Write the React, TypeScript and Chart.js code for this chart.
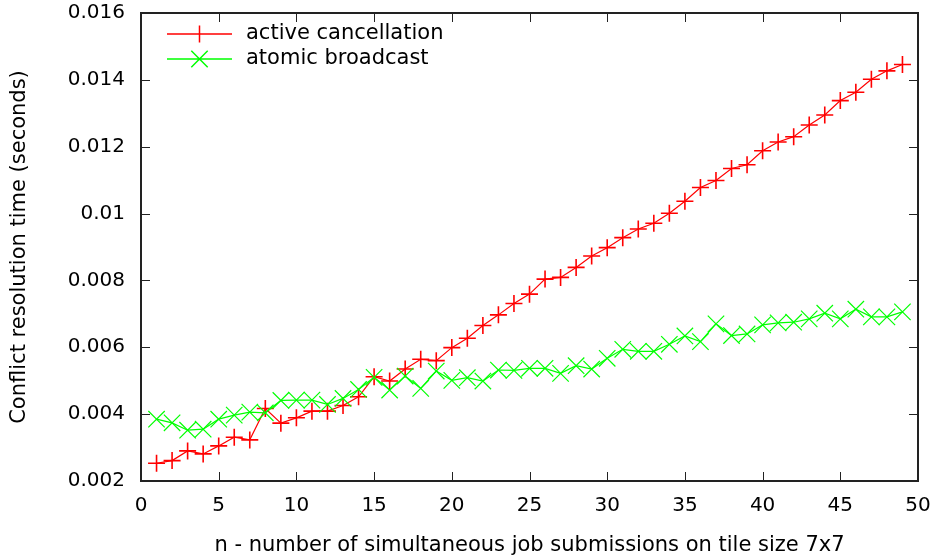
import React, { useEffect, useRef } from 'react';
import { Chart, registerables } from 'chart.js';

Chart.register(...registerables);

// n = number of simultaneous job submissions
const nValues = [
  1, 2, 3, 4, 5, 6, 7, 8, 9, 10, 11, 12, 13, 14, 15, 16, 17, 18, 19, 20, 21, 22, 23, 24, 25,
  26, 27, 28, 29, 30, 31, 32, 33, 34, 35, 36, 37, 38, 39, 40, 41, 42, 43, 44, 45, 46, 47, 48, 49,
];

// conflict resolution time in seconds
const activeCancellation = [
  0.00253, 0.00261, 0.0029, 0.00281, 0.00305, 0.00331, 0.00323, 0.00417, 0.00373, 0.00389,
  0.00409, 0.00409, 0.00426, 0.00452, 0.00512, 0.00499, 0.00535, 0.00564, 0.0056, 0.00599,
  0.00627, 0.00665, 0.00697, 0.00731, 0.00759, 0.00804, 0.00809, 0.00839, 0.00873, 0.00898,
  0.00928, 0.00954, 0.00971, 0.01001, 0.01037, 0.01078, 0.01099, 0.01135, 0.01146, 0.01188,
  0.01214, 0.0123, 0.01265, 0.01295, 0.01338, 0.01363, 0.01402, 0.01427, 0.01446,
];

const atomicBroadcast = [
  0.00385, 0.00374, 0.00352, 0.00355, 0.00385, 0.00397, 0.00406, 0.00404, 0.00441, 0.00442,
  0.00442, 0.00429, 0.00447, 0.00474, 0.0051, 0.00472, 0.00514, 0.00477, 0.00529, 0.00501,
  0.00509, 0.00499, 0.00532, 0.00531, 0.00537, 0.00537, 0.00522, 0.00545, 0.00535, 0.00567,
  0.00594, 0.00588, 0.00588, 0.00609, 0.00634, 0.00617, 0.0067, 0.00635, 0.0064, 0.00667,
  0.00673, 0.00675, 0.00685, 0.00702, 0.00685, 0.00714, 0.00691, 0.00691, 0.00706,
];

const xTickValues = [0, 5, 10, 15, 20, 25, 30, 35, 40, 45, 50];
const yTickValues = [0.002, 0.004, 0.006, 0.008, 0.01, 0.012, 0.014, 0.016];
const yTickLabels = ['0.002', '0.004', '0.006', '0.008', '0.01', '0.012', '0.014', '0.016'];

const seriesNames = ['active cancellation', 'atomic broadcast'];
const seriesColors = ['#ff0000', '#00ff00'];

const FONT = 'DejaVu Sans';

// Inward tick marks on all four sides, the border box and the key
const framePlugin = {
  id: 'gnuplotFrame',
  afterDatasetsDraw(chart: any) {
    const { ctx, chartArea } = chart;
    const { left, top, right, bottom } = chartArea;
    const xs = chart.scales.x;
    const ys = chart.scales.y;
    const tickLen = 9;
    ctx.save();

    ctx.strokeStyle = '#222';
    ctx.lineWidth = 1;
    ctx.beginPath();
    xs.ticks.forEach((t: any) => {
      if (t.value <= xs.min || t.value >= xs.max) return;
      const px = Math.round(xs.getPixelForValue(t.value)) + 0.5;
      ctx.moveTo(px, bottom);
      ctx.lineTo(px, bottom - tickLen);
      ctx.moveTo(px, top);
      ctx.lineTo(px, top + tickLen);
    });
    ys.ticks.forEach((t: any) => {
      if (t.value <= ys.min + 1e-9 || t.value >= ys.max - 1e-9) return;
      const py = Math.round(ys.getPixelForValue(t.value)) + 0.5;
      ctx.moveTo(left, py);
      ctx.lineTo(left + tickLen, py);
      ctx.moveTo(right, py);
      ctx.lineTo(right - tickLen, py);
    });
    ctx.stroke();

    ctx.lineWidth = 2;
    ctx.strokeStyle = '#222';
    ctx.strokeRect(left, top, right - left, bottom - top);

    // key
    const keyX0 = left + 26;
    const keyX1 = left + 91;
    const keyMid = (keyX0 + keyX1) / 2;
    const textX = left + 105;
    seriesNames.forEach((name, i) => {
      const ky = top + 21 + i * 25;
      ctx.strokeStyle = seriesColors[i];
      ctx.lineWidth = 1.5;
      ctx.beginPath();
      ctx.moveTo(keyX0, ky);
      ctx.lineTo(keyX1, ky);
      if (i === 0) {
        ctx.moveTo(keyMid - 8.5, ky);
        ctx.lineTo(keyMid + 8.5, ky);
        ctx.moveTo(keyMid, ky - 8.5);
        ctx.lineTo(keyMid, ky + 8.5);
      } else {
        const d = 8.2;
        ctx.moveTo(keyMid - d, ky - d);
        ctx.lineTo(keyMid + d, ky + d);
        ctx.moveTo(keyMid + d, ky - d);
        ctx.lineTo(keyMid - d, ky + d);
      }
      ctx.stroke();
      ctx.fillStyle = '#000';
      ctx.font = `21px "${FONT}"`;
      ctx.textAlign = 'left';
      ctx.textBaseline = 'middle';
      ctx.fillText(name, textX, ky);
    });

    ctx.restore();
  },
};

export default function App() {
  const canvasRef = useRef<HTMLCanvasElement | null>(null);

  useEffect(() => {
    if (!canvasRef.current) return;
    const chart = new Chart(canvasRef.current, {
      type: 'line',
      data: {
        datasets: [
          {
            label: seriesNames[0],
            data: nValues.map((n, i) => ({ x: n, y: activeCancellation[i] })),
            borderColor: seriesColors[0],
            backgroundColor: seriesColors[0],
            borderWidth: 1.2,
            pointStyle: 'cross',
            pointRadius: 8.5,
            pointBorderWidth: 1.6,
            pointBorderColor: seriesColors[0],
            tension: 0,
            fill: false,
            order: 1,
          },
          {
            label: seriesNames[1],
            data: nValues.map((n, i) => ({ x: n, y: atomicBroadcast[i] })),
            borderColor: seriesColors[1],
            backgroundColor: seriesColors[1],
            borderWidth: 1.2,
            pointStyle: 'crossRot',
            pointRadius: 11.6,
            pointBorderWidth: 1.2,
            pointBorderColor: seriesColors[1],
            tension: 0,
            fill: false,
            order: 0,
          },
        ],
      },
      options: {
        animation: false,
        responsive: false,
        maintainAspectRatio: false,
        events: [],
        layout: { padding: { top: 13, right: 22, left: 0, bottom: 0 } },
        plugins: {
          legend: { display: false },
          tooltip: { enabled: false },
        },
        scales: {
          x: {
            type: 'linear',
            min: 0,
            max: 50,
            afterBuildTicks: (scale: any) => {
              scale.ticks = xTickValues.map((v) => ({ value: v }));
            },
            afterFit: (scale: any) => {
              scale.height = 78;
              scale.paddingLeft = 0;
              scale.paddingRight = 0;
            },
            grid: { display: false, drawTicks: false },
            border: { display: false },
            ticks: {
              color: '#000',
              font: { family: FONT, size: 20 },
              padding: 13,
              maxRotation: 0,
              callback: (v: any) => String(v),
            },
            title: {
              display: true,
              text: 'n - number of simultaneous job submissions on tile size 7x7',
              color: '#000',
              font: { family: FONT, size: 21 },
              padding: { top: 0, bottom: 1 },
            },
          },
          y: {
            type: 'linear',
            min: 0.002,
            max: 0.016,
            afterBuildTicks: (scale: any) => {
              scale.ticks = yTickValues.map((v) => ({ value: v }));
            },
            afterFit: (scale: any) => {
              scale.width = 141;
              scale.paddingTop = 0;
              scale.paddingBottom = 0;
            },
            grid: { display: false, drawTicks: false },
            border: { display: false },
            ticks: {
              color: '#000',
              font: { family: FONT, size: 20 },
              padding: 16,
              callback: (_v: any, index: number) => yTickLabels[index],
            },
            title: {
              display: true,
              text: 'Conflict resolution time (seconds)',
              color: '#000',
              font: { family: FONT, size: 21 },
              padding: { top: 7, bottom: 0 },
            },
          },
        },
      },
      plugins: [framePlugin],
    });
    return () => chart.destroy();
  }, []);

  return (
    <div style={{ position: 'absolute', left: 0, top: 0, width: 940, height: 559, background: '#fff' }}>
      <canvas ref={canvasRef} width={940} height={559} />
    </div>
  );
}
